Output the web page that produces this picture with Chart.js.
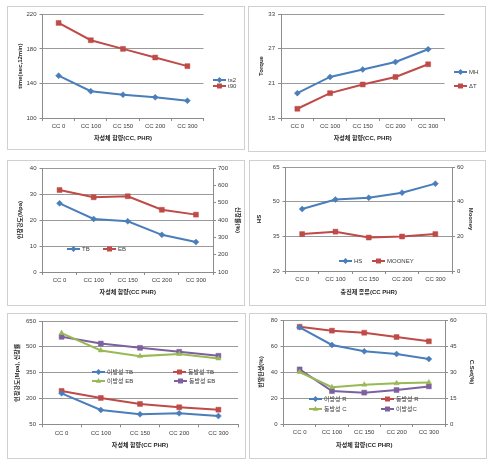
<!DOCTYPE html>
<html><head><meta charset="utf-8">
<script src="https://cdn.jsdelivr.net/npm/chart.js@4/dist/chart.umd.min.js"></script>
<style>
html,body{margin:0;padding:0;background:#fff;width:498px;height:468px;overflow:hidden;position:relative}
.panel{position:absolute;border:1px solid #d0d0d0;box-sizing:border-box;background:#fff}
canvas{position:absolute}
</style></head><body>
<script>
// ---------- data ----------
const categories = ['CC 0','CC 100','CC 150','CC 200','CC 300'];
// panel 1: cure time
const ts2 = [149,131,127,124,120];
const t90 = [210,190,180,170,160];
const p1Ticks = [100,140,180,220];
// panel 2: torque
const MH = [19.3,22.1,23.4,24.7,26.9];
const dT = [16.6,19.3,20.8,22.1,24.3];
const p2Ticks = [15,21,27,33];
// panel 3: tensile / elongation
const TB = [26.4,20.4,19.5,14.3,11.5];
const EB = [573,531,537,459,431];
const p3Ticks = [0,10,20,30,40];
const p3RTicks = [100,200,300,400,500,600,700];
// panel 4: hardness / mooney
const HS = [46.8,50.9,51.7,53.9,57.8];
const MOONEY = [21.3,22.7,19.3,19.9,21.3];
const p4Ticks = [20,35,50,65];
const p4RTicks = [0,20,40,60];
// panel 5: anisotropic / isotropic TB & EB
const anisoTB = [230,133,108,114,98];
const isoTB = [244,203,168,149,135];
const anisoEB = [580,479,446,458,432];
const isoEB = [558,519,494,471,448];
const p5Ticks = [50,200,350,500,650];
// panel 6: rebound resilience / compression set
const anisoR = [74.4,60.8,55.9,53.8,50.0];
const isoR = [74.8,71.8,70.2,66.9,63.6];
const isoC = [30.0,21.2,22.7,23.5,24.0];
const anisoC = [31.5,19.0,18.1,19.6,21.7];
const p6Ticks = [0,20,40,60,80];
const p6RTicks = [0,15,30,45,60];

// ---------- styles ----------
const FAM = "'Liberation Sans','Noto Sans CJK KR',sans-serif";
const COL = {blue:'#4A7EBB', red:'#BE4B48', green:'#98B954', purple:'#7D60A0'};
const GRID = '#9a9a9a', AXIS = '#8c8c8c', TICK = '#3a3a3a', TITLE = '#262626';
const tickFont = {family:FAM, size:6};
const titleFont = {family:FAM, size:6, weight:'bold', lineHeight:1.2};
const LH = 6*1.2;

function drawMarker(ctx, style, x, y, r, color){
  ctx.fillStyle = color;
  ctx.beginPath();
  if(style==='rect'){ const s=r*Math.SQRT1_2; ctx.rect(x-s,y-s,2*s,2*s); }
  else if(style==='rectRot'){ ctx.moveTo(x,y-r); ctx.lineTo(x+r,y); ctx.lineTo(x,y+r); ctx.lineTo(x-r,y); ctx.closePath(); }
  else if(style==='triangle'){ ctx.moveTo(x,y-r); ctx.lineTo(x+r*0.9,y+r*0.6); ctx.lineTo(x-r*0.9,y+r*0.6); ctx.closePath(); }
  else { ctx.arc(x,y,r,0,Math.PI*2); }
  ctx.fill();
}

const excelLegend = {
  id:'excelLegend',
  afterDraw(chart, args, opts){
    const ctx = chart.ctx;
    (opts.items||[]).forEach((it,i)=>{
      const d = chart.data.datasets[i];
      const x = it[0]-opts.ox, y = it[1]-opts.oy, L = opts.len;
      ctx.save();
      ctx.strokeStyle = d.borderColor; ctx.lineWidth = 2;
      ctx.beginPath(); ctx.moveTo(x,y); ctx.lineTo(x+L,y); ctx.stroke();
      drawMarker(ctx, d.pointStyle, x+L/2, y, d.pointRadius, d.pointBackgroundColor);
      ctx.fillStyle = TICK; ctx.font = '6px '+FAM; ctx.textBaseline='middle'; ctx.textAlign='left';
      ctx.fillText(d.label, x+L+2, y);
      ctx.restore();
    });
  }
};

function ser(label, data, color, style, r, axis){
  return {label, data, borderColor:color, backgroundColor:color, pointBackgroundColor:color,
    pointBorderColor:color, pointBorderWidth:0.5, pointStyle:style, pointRadius:r, borderWidth:2,
    tension:0, yAxisID:axis||'y', clip:false};
}

function yScale(ticks, pos, title, titleX, box, fitW, isRight){
  const [bx,by,bw,bh] = box;
  const pad = isRight ? Math.max(0, bw-(titleX-bx)-LH/2) : Math.max(0,(titleX-bx)-LH/2);
  return {
    type:'linear', position:pos, min:ticks[0], max:ticks[ticks.length-1],
    afterBuildTicks: s => { s.ticks = ticks.map(v=>({value:v})); },
    grid:{display:true, drawOnChartArea:!isRight, color:GRID, lineWidth:1, drawTicks:true, tickLength:3, tickColor:AXIS},
    border:{display:true, color:AXIS, width:1},
    ticks:{font:tickFont, color:TICK, padding:isRight?2:3},
    title:{display:!!title, text:title, font:titleFont, color:TITLE, padding:{top:pad,bottom:0}},
    afterFit: s => { s.width = fitW; s.paddingTop = 0; s.paddingBottom = 0; }
  };
}

function build(p){
  const [bx,by,bw,bh] = p.box;
  const [al,at,ar,ab] = p.area;
  const div = document.createElement('div'); div.className='panel';
  Object.assign(div.style,{left:bx+'px',top:by+'px',width:bw+'px',height:bh+'px'});
  document.body.appendChild(div);
  const cv = document.createElement('canvas'); cv.width=bw; cv.height=bh;
  Object.assign(cv.style,{left:bx+'px',top:by+'px',width:bw+'px',height:bh+'px'});
  document.body.appendChild(cv);
  const rightW = (bx+bw)-ar;
  const scales = {
    x:{type:'category', labels:categories, offset:true,
      grid:{display:true, drawOnChartArea:false, drawTicks:true, tickLength:3, color:AXIS, offset:true},
      border:{display:true, color:AXIS, width:1},
      ticks:{font:tickFont, color:TICK, padding:2, maxRotation:0, autoSkip:false},
      title:{display:true, text:p.xTitle, font:titleFont, color:TITLE, padding:{top:0,bottom:Math.max(0,(by+bh)-p.xTitleY-LH/2)}},
      afterFit: s => { s.height = (by+bh)-ab; s.paddingLeft=0; s.paddingRight=0; }
    },
    y: yScale(p.yTicks,'left',p.yTitle,p.yTitleX,p.box,al-bx,false)
  };
  if(p.rTicks){ scales.y2 = yScale(p.rTicks,'right',p.rTitle,p.rTitleX,p.box,rightW,true); }
  new Chart(cv,{
    type:'line',
    data:{labels:categories, datasets:p.datasets},
    options:{
      responsive:false, animation:false, devicePixelRatio:1, events:[],
      layout:{padding:{top:at-by,left:0,bottom:0,right:p.rTicks?0:rightW}},
      scales,
      plugins:{legend:{display:false}, tooltip:{enabled:false},
        excelLegend:{items:p.legend, ox:bx, oy:by, len:p.legendLen||13}}
    },
    plugins:[excelLegend]
  });
}

const panels = [
  {box:[7,6,238,144], area:[42.5,14.3,203.5,118], yTicks:p1Ticks, yTitle:'time(sec,12min)', yTitleX:20,
   xTitle:'자성체 함량(CC, PHR)', xTitleY:138,
   datasets:[ser('ts2',ts2,COL.blue,'rectRot',3), ser('t90',t90,COL.red,'rect',3.5)],
   legend:[[213,80],[213,86]]},
  {box:[248,6,238,146], area:[281,14,444.5,118], yTicks:p2Ticks, yTitle:'Torque', yTitleX:261,
   xTitle:'자성체 함량(CC, PHR)', xTitleY:138,
   datasets:[ser('MH',MH,COL.blue,'rectRot',3), ser('ΔT',dT,COL.red,'rect',3.5)],
   legend:[[454,72],[454,86]]},
  {box:[7,160,238,146], area:[42.5,168,213,272], yTicks:p3Ticks, yTitle:'인장강도(Mpa)', yTitleX:20,
   rTicks:p3RTicks, rTitle:'신장률(%)', rTitleX:238,
   xTitle:'자성체 함량(CC PHR)', xTitleY:292,
   datasets:[ser('TB',TB,COL.blue,'rectRot',3), ser('EB',EB,COL.red,'rect',3.5,'y2')],
   legend:[[67,249],[103,249]]},
  {box:[249,160,237,146], area:[285.5,167,452,271], yTicks:p4Ticks, yTitle:'HS', yTitleX:259,
   rTicks:p4RTicks, rTitle:'Mooney', rTitleX:471,
   xTitle:'충진제 종류(CC PHR)', xTitleY:292,
   datasets:[ser('HS',HS,COL.blue,'rectRot',3), ser('MOONEY',MOONEY,COL.red,'rect',3.5,'y2')],
   legend:[[339,261],[372,261]]},
  {box:[7,313,239,146], area:[42,321,238,424.3], yTicks:p5Ticks, yTitle:'인장강도(Mpa), 신장률', yTitleX:17,
   xTitle:'자성체 함량(CC PHR)', xTitleY:445,
   datasets:[ser('이방성 TB',anisoTB,COL.blue,'rectRot',3), ser('동방성 TB',isoTB,COL.red,'rect',3.5),
             ser('이방성 EB',anisoEB,COL.green,'triangle',3), ser('동방성 EB',isoEB,COL.purple,'rect',3.5)],
   legend:[[92,372],[173,372],[92,381],[174,381]]},
  {box:[249,313,238,146], area:[283.5,320,445,424], yTicks:p6Ticks, yTitle:'반발탄성(%)', yTitleX:261,
   rTicks:p6RTicks, rTitle:'C.Set(%)', rTitleX:472,
   xTitle:'자성체 함량(CC PHR)', xTitleY:445,
   datasets:[ser('이방성 R',anisoR,COL.blue,'rectRot',3), ser('동방성 R',isoR,COL.red,'rect',3.5),
             ser('동방성 C',isoC,COL.green,'triangle',3,'y2'), ser('이방성C',anisoC,COL.purple,'rect',3.5,'y2')],
   legend:[[309,399],[381,399],[309,409],[381,409]]}
];
panels.forEach(build);
</script>
</body></html>
